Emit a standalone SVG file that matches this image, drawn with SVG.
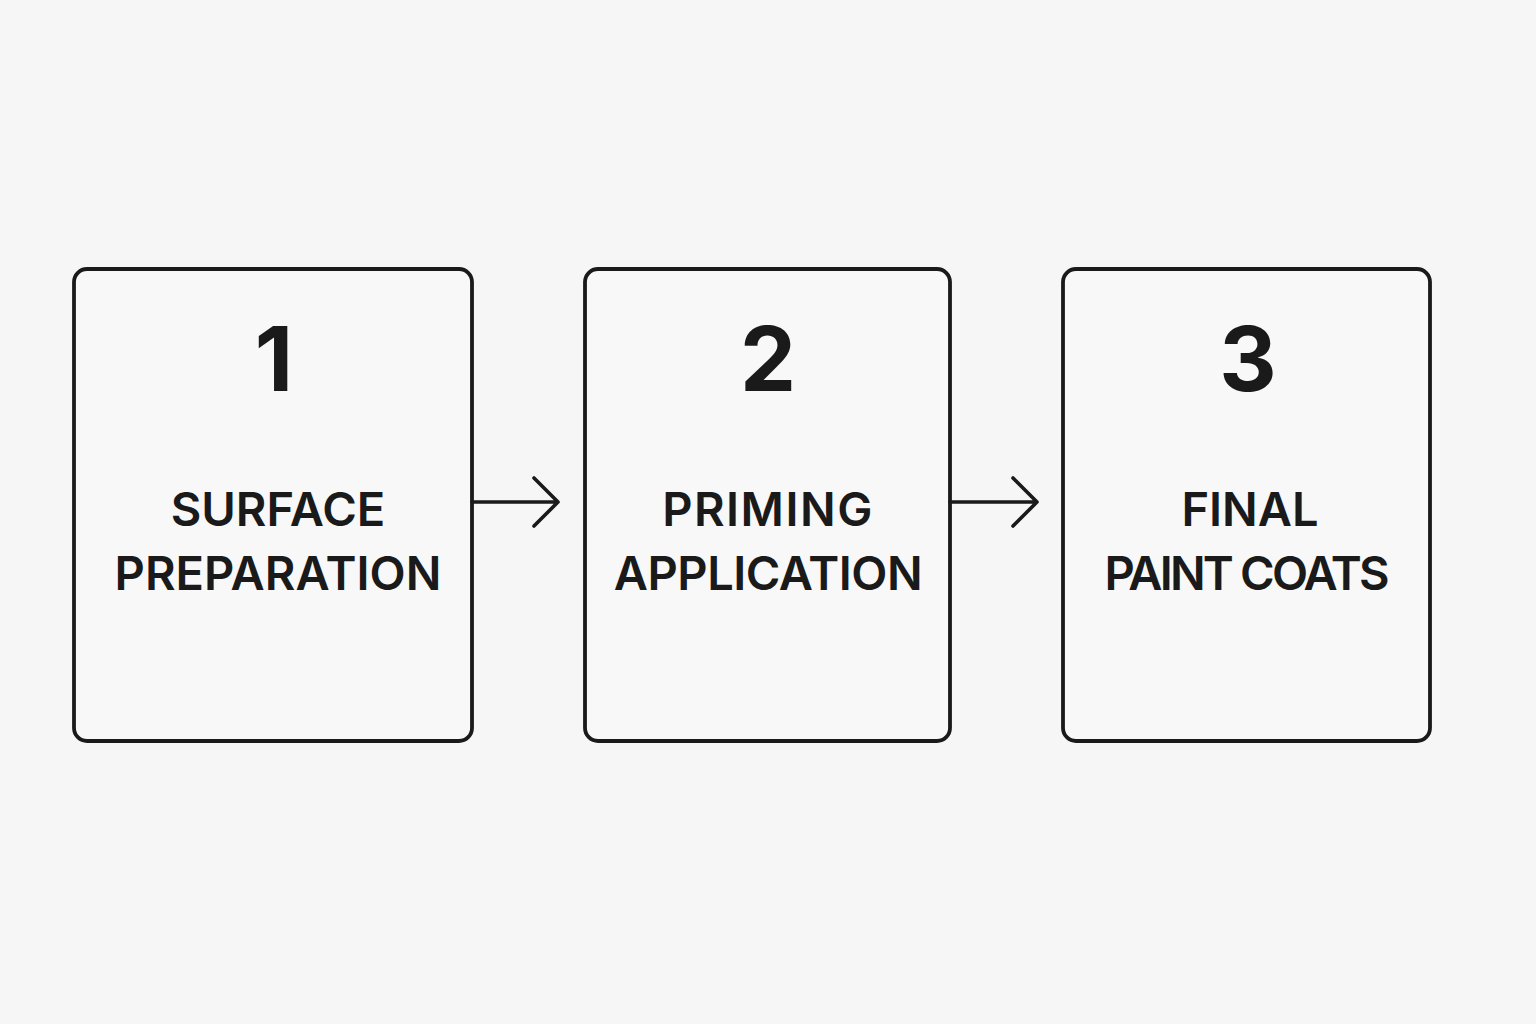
<svg xmlns="http://www.w3.org/2000/svg" width="1536" height="1024" viewBox="0 0 1536 1024">
<style>
.box{fill:#f8f8f8;stroke:#1a1a1a;stroke-width:3.8}
.num{font-family:Inter,"Liberation Sans",sans-serif;font-weight:700;font-size:89px;fill:#1a1a1a;text-anchor:middle}
.lbl{font-family:Inter,"Liberation Sans",sans-serif;font-weight:600;font-size:47px;fill:#1a1a1a;text-anchor:middle}
.conn{fill:none;stroke:#1a1a1a;stroke-width:3.6;stroke-linecap:round;stroke-linejoin:round}
</style>
<rect width="1536" height="1024" fill="#f6f6f6"/>
<g id="node1">
<rect class="box" x="74" y="269" width="398" height="472" rx="13"/>
<text class="num" x="274" y="391">1</text>
<text class="lbl" x="278" y="526">SURFACE</text>
<text class="lbl" x="278" y="590">PREPARATION</text>
</g>
<g id="node2">
<rect class="box" x="585" y="269" width="365" height="472" rx="13"/>
<text class="num" x="768" y="391">2</text>
<text class="lbl" x="768" y="526" style="letter-spacing:1.5px">PRIMING</text>
<text class="lbl" x="768" y="590" style="letter-spacing:-0.5px">APPLICATION</text>
</g>
<g id="node3">
<rect class="box" x="1063" y="269" width="367" height="472" rx="13"/>
<text class="num" x="1248" y="391">3</text>
<text class="lbl" x="1250" y="526">FINAL</text>
<text class="lbl" x="1247" y="590" textLength="285" lengthAdjust="spacing">PAINT COATS</text>
</g>
<g id="connectors">
<path class="conn" d="M472 502H558M534 478L558 502L534 526"/>
<path class="conn" d="M950 502H1037M1013 478L1037 502L1013 526"/>
</g>
</svg>
